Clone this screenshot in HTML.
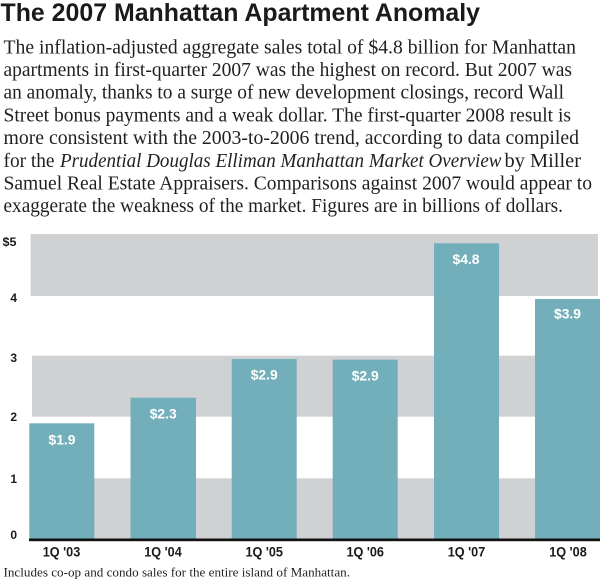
<!DOCTYPE html>
<html><head><meta charset="utf-8"><style>
html,body{margin:0;padding:0;background:#fff;}
svg{display:block;}
</style></head><body>
<svg width="600" height="580" viewBox="0 0 600 580" xmlns="http://www.w3.org/2000/svg">
<rect width="600" height="580" fill="#fff"/>
<text x="0.5" y="20.8" font-family="Liberation Sans, sans-serif" font-weight="bold" font-size="25" fill="#1a1a1a" textLength="479.5" lengthAdjust="spacingAndGlyphs">The 2007 Manhattan Apartment Anomaly</text>
<g font-family="Liberation Serif, serif" font-size="19.5" fill="#231f20">
<text x="3.5" y="53.3" textLength="572.5" lengthAdjust="spacingAndGlyphs">The inflation-adjusted aggregate sales total of $4.8 billion for Manhattan</text>
<text x="3.5" y="76" textLength="568.5" lengthAdjust="spacingAndGlyphs">apartments in first-quarter 2007 was the highest on record. But 2007 was</text>
<text x="3.5" y="98.7" textLength="560.5" lengthAdjust="spacingAndGlyphs">an anomaly, thanks to a surge of new development closings, record Wall</text>
<text x="3.5" y="121.4" textLength="567.5" lengthAdjust="spacingAndGlyphs">Street bonus payments and a weak dollar. The first-quarter 2008 result is</text>
<text x="3.5" y="144" textLength="575.5" lengthAdjust="spacingAndGlyphs">more consistent with the 2003-to-2006 trend, according to data compiled</text>
<text x="3.5" y="166.8" textLength="51" lengthAdjust="spacingAndGlyphs">for the</text>
<text x="60" y="166.8" font-style="italic" textLength="441.5" lengthAdjust="spacingAndGlyphs">Prudential Douglas Elliman Manhattan Market Overview</text>
<text x="504.5" y="166.8" textLength="76.5" lengthAdjust="spacingAndGlyphs">by Miller</text>
<text x="3.5" y="189.5" textLength="588.5" lengthAdjust="spacingAndGlyphs">Samuel Real Estate Appraisers. Comparisons against 2007 would appear to</text>
<text x="3.5" y="212.2" textLength="559.5" lengthAdjust="spacingAndGlyphs">exaggerate the weakness of the market. Figures are in billions of dollars.</text>
</g>
<!-- bands -->
<g fill="#d0d1d3">
<rect x="30.7" y="234" width="567.3" height="62"/>
<rect x="32" y="355.7" width="566" height="61"/>
<rect x="30.7" y="478.3" width="567.3" height="61"/>
</g>
<!-- bars -->
<g fill="#72afba">
<rect x="29.3" y="423.3" width="65" height="116"/>
<rect x="130.5" y="397.7" width="65.5" height="142"/>
<rect x="231.7" y="359" width="65" height="181"/>
<rect x="332.7" y="359.7" width="65" height="180"/>
<rect x="434" y="243.3" width="65" height="297"/>
<rect x="535" y="299" width="65" height="241"/>
</g>
<rect x="29" y="538.5" width="571" height="2.7" fill="#111"/>
<!-- value labels -->
<g font-family="Liberation Sans, sans-serif" font-weight="bold" font-size="14" fill="#fff" text-anchor="middle">
<text x="62" y="444.3" textLength="27" lengthAdjust="spacingAndGlyphs">$1.9</text>
<text x="163.2" y="418.5" textLength="27" lengthAdjust="spacingAndGlyphs">$2.3</text>
<text x="264.2" y="379.5" textLength="27" lengthAdjust="spacingAndGlyphs">$2.9</text>
<text x="365.2" y="380.5" textLength="27" lengthAdjust="spacingAndGlyphs">$2.9</text>
<text x="466" y="264" textLength="27" lengthAdjust="spacingAndGlyphs">$4.8</text>
<text x="567.5" y="318.5" textLength="27" lengthAdjust="spacingAndGlyphs">$3.9</text>
</g>
<!-- y labels -->
<g font-family="Liberation Sans, sans-serif" font-weight="bold" font-size="12" fill="#1a1a1a" text-anchor="end">
<text x="16.5" y="246" textLength="14" lengthAdjust="spacingAndGlyphs">$5</text>
<text x="17" y="302">4</text>
<text x="17" y="362">3</text>
<text x="17" y="421">2</text>
<text x="17" y="483">1</text>
<text x="17" y="539">0</text>
</g>
<!-- x labels -->
<g font-family="Liberation Sans, sans-serif" font-weight="bold" font-size="14" fill="#1a1a1a" text-anchor="middle">
<text x="61.5" y="556.7" textLength="37.5" lengthAdjust="spacingAndGlyphs">1Q '03</text>
<text x="163" y="556.7" textLength="37.5" lengthAdjust="spacingAndGlyphs">1Q '04</text>
<text x="264.2" y="556.7" textLength="37.5" lengthAdjust="spacingAndGlyphs">1Q '05</text>
<text x="365.2" y="556.7" textLength="37.5" lengthAdjust="spacingAndGlyphs">1Q '06</text>
<text x="466.5" y="556.7" textLength="37.5" lengthAdjust="spacingAndGlyphs">1Q '07</text>
<text x="568" y="556.7" textLength="37.5" lengthAdjust="spacingAndGlyphs">1Q '08</text>
</g>
<text x="3.5" y="576.7" font-family="Liberation Serif, serif" font-size="13" fill="#231f20" textLength="346.5" lengthAdjust="spacingAndGlyphs">Includes co-op and condo sales for the entire island of Manhattan.</text>
</svg>
</body></html>
